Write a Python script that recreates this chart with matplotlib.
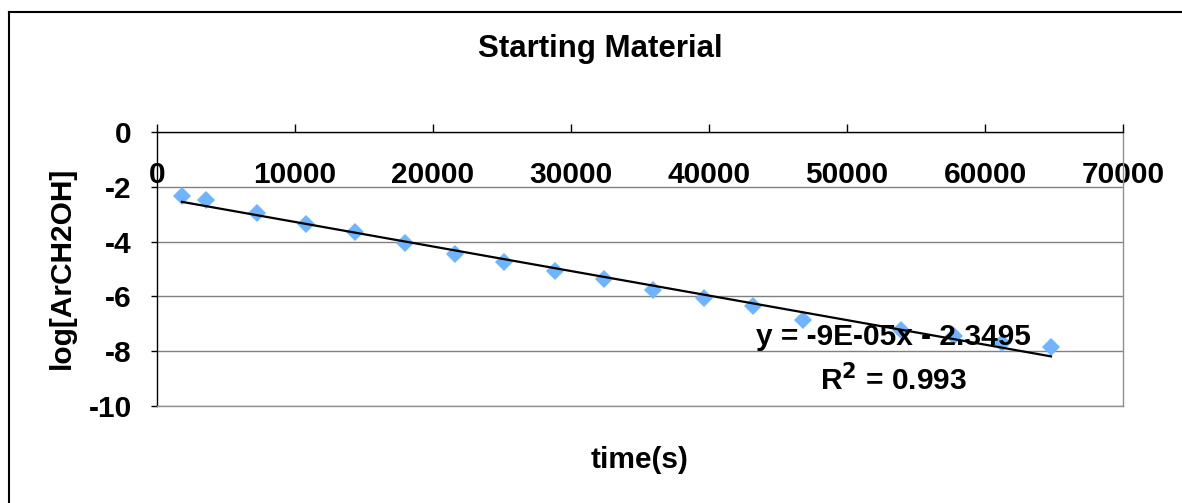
import numpy as np
import matplotlib
matplotlib.use("Agg")
import matplotlib.pyplot as plt
from matplotlib.lines import Line2D

plt.rcParams['font.family'] = ['Liberation Sans', 'DejaVu Sans']
plt.rcParams['font.weight'] = 'bold'
plt.rcParams['axes.unicode_minus'] = False

# data
time_s = [1810, 3550, 7250, 10800, 14350, 17970, 21600, 25150, 28840,
          32400, 35940, 39640, 43190, 46800, 53900, 57750, 61230, 64780]
log_conc = [-2.34, -2.48, -2.96, -3.36, -3.65, -4.05, -4.45, -4.74, -5.07,
            -5.36, -5.77, -6.06, -6.35, -6.86, -7.23, -7.45, -7.70, -7.85]
x_ticks = [0, 10000, 20000, 30000, 40000, 50000, 60000, 70000]
y_ticks = [0, -2, -4, -6, -8, -10]
eq_text = "y = -9E-05x - 2.3495"
r2_text = "R$^2$ = 0.993"

fig = plt.figure(figsize=(11.82, 5.03), dpi=100)
ax = fig.add_axes([0.1328, 0.1928, 0.8173, 0.5447])

# linear trendline
k, b = np.polyfit(time_s, log_conc, 1)
tx = np.array([min(time_s), max(time_s)])
ax.plot(tx, k*tx + b, color='black', lw=1.6, zorder=3)
ax.plot(time_s, log_conc, 'D', color='#6EB4FF', markersize=9.5,
        markeredgewidth=0, zorder=2)

ax.set_xlim(0, 70000)
ax.set_ylim(-10, 0)
ax.set_xticks(x_ticks)
ax.set_yticks(y_ticks)
ax.grid(axis='y', color='#808080', lw=1)
ax.set_axisbelow(True)

for s in ['right', 'bottom']:
    ax.spines[s].set_color('#909090')
for s in ['left', 'top']:
    ax.spines[s].set_color('black')
for s in ax.spines.values():
    s.set_linewidth(1)

ax.xaxis.tick_top()
ax.tick_params(axis='x', direction='out', length=6, width=1, top=True,
               bottom=False, labeltop=True, labelbottom=False, pad=-47,
               labelsize=21.5)
ax.tick_params(axis='y', direction='out', length=4, width=1, pad=14,
               labelsize=21.5)
for lab in ax.get_xticklabels() + ax.get_yticklabels():
    lab.set_fontweight('bold')

ax.text(0.762, 0.252, eq_text, transform=ax.transAxes, ha='center',
        va='center', fontsize=21.5, fontweight='bold')
ax.text(0.762, 0.095, r2_text, transform=ax.transAxes, ha='center',
        va='center', fontsize=21.5, fontweight='bold')

fig.text(0.5076, 0.902, "Starting Material", ha='center', va='center',
         fontsize=22.5, fontweight='bold')
fig.text(0.541, 0.0855, "time(s)", ha='center', va='center',
         fontsize=21.5, fontweight='bold')
fig.text(0.0525, 0.467, "log[ArCH2OH]", ha='center', va='center',
         rotation=90, fontsize=21.5, fontweight='bold')

# outer chart border
fig.add_artist(Line2D([0.0076, 1.0], [0.976, 0.976], color='black', lw=1.5,
                      transform=fig.transFigure))
fig.add_artist(Line2D([0.0076, 0.0076], [0.0, 0.976], color='black', lw=1.5,
                      transform=fig.transFigure))

fig.savefig("out.png", dpi=100)
